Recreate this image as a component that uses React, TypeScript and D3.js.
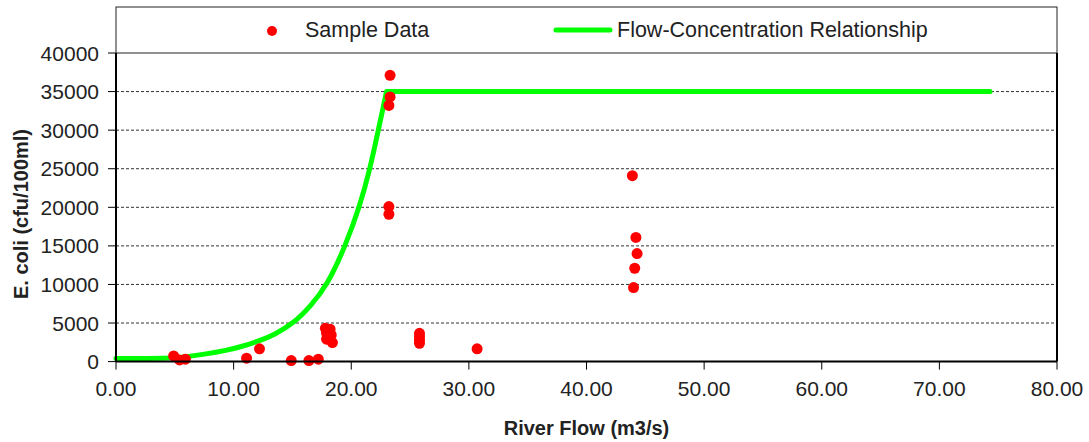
import React from "react";
import * as d3 from "d3";

const sampleFlow = [4.9, 5.4, 5.9, 11.1, 12.2, 14.9, 16.4, 17.2, 17.8, 18.2, 17.9, 18.3, 17.9, 18.4, 23.3, 23.3, 23.2, 23.2, 23.2, 25.8, 25.8, 25.8, 25.8, 30.7, 43.9, 44.2, 44.3, 44.1, 44.0];
const sampleEcoli = [740, 220, 310, 440, 1650, 130, 130, 310, 4320, 4200, 3680, 3460, 2900, 2460, 37100, 34300, 33200, 20100, 19100, 3670, 3240, 2810, 2380, 1650, 24100, 16100, 14000, 12100, 9600];

// rising part of the flow-concentration relationship
const curveFlow = [0, 4.5, 5.7, 7.5, 9.4, 10.8, 12.2, 13.5, 15.1, 16.5, 18.0, 19.5, 20.7, 21.6, 22.3, 23.0];
const curveEcoli = [400, 400, 580, 950, 1450, 2000, 2700, 3500, 5000, 7100, 10000, 15000, 20000, 25000, 30000, 35000];
// plateau
const plateauFlow = [23.0, 74.3];
const plateauEcoli = [35000, 35000];

const xTicks = [0, 10, 20, 30, 40, 50, 60, 70, 80];
const yTicks = [0, 5000, 10000, 15000, 20000, 25000, 30000, 35000, 40000];

const W = 1089;
const H = 442;
const left = 116;
const right = 1057;
const top = 53;
const bottom = 361.6;
const FONT = "'Liberation Sans', Arial, sans-serif";
const TXT = "#222";

export default function App() {
  const x = d3.scaleLinear().domain([0, 80]).range([left, right]);
  const y = d3.scaleLinear().domain([0, 40000]).range([bottom, top]);
  const rise = d3
    .line<number>()
    .x((_, i) => x(curveFlow[i]))
    .y((d) => y(d))
    .curve(d3.curveBasis);
  const flat = d3
    .line<number>()
    .x((_, i) => x(plateauFlow[i]))
    .y((d) => y(d));
  const risePath = rise(curveEcoli) || "";
  const flatPath = flat(plateauEcoli) || "";

  return (
    <svg width={W} height={H} style={{ position: "absolute", left: 0, top: 0, background: "#fff" }} fontFamily={FONT}>
      <rect x={0} y={0} width={W} height={H} fill="#fff" />
      {/* legend box */}
      <rect x={left} y={7} width={right - left} height={top - 7} fill="none" stroke="#222" strokeWidth={1} />
      <circle cx={272} cy={31} r={5} fill="#ff0000" />
      <text x={305} y={37} fontSize={21.5} fill={TXT}>Sample Data</text>
      <line x1={556} x2={610} y1={30} y2={30} stroke="#00ff00" strokeWidth={5} strokeLinecap="round" />
      <text x={617} y={37} fontSize={21.5} fill={TXT}>Flow-Concentration Relationship</text>

      {/* gridlines */}
      {yTicks.filter((t) => t > 0 && t < 40000).map((t) => (
        <line key={"g" + t} x1={left} x2={right} y1={y(t)} y2={y(t)} stroke="#333" strokeWidth={1} strokeDasharray="3,2" />
      ))}

      {/* right border */}
      <line x1={right} x2={right} y1={top} y2={bottom} stroke="#000" strokeWidth={2} />

      {/* relationship line */}
      <path d={risePath + flatPath.replace(/^M/, "L")} fill="none" stroke="#00ff00" strokeWidth={5} strokeLinecap="round" strokeLinejoin="round" />

      {/* points */}
      {sampleFlow.map((f, i) => (
        <circle key={"p" + i} cx={x(f)} cy={y(sampleEcoli[i])} r={5.5} fill="#ff0000" />
      ))}

      {/* axes */}
      <line x1={left} x2={left} y1={top} y2={bottom} stroke="#000" strokeWidth={2} />
      <line x1={left} x2={right} y1={bottom} y2={bottom} stroke="#000" strokeWidth={2} />
      {yTicks.map((t) => (
        <g key={"y" + t}>
          <line x1={left - 8} x2={left} y1={y(t)} y2={y(t)} stroke="#000" strokeWidth={1} />
          <text x={99} y={y(t)} dy="0.36em" textAnchor="end" fontSize={21} fill={TXT}>{t}</text>
        </g>
      ))}
      {xTicks.map((t) => (
        <g key={"x" + t}>
          <line x1={x(t)} x2={x(t)} y1={bottom} y2={bottom + 8} stroke="#000" strokeWidth={1} />
          <text x={x(t)} y={396} textAnchor="middle" fontSize={21} fill={TXT}>{t.toFixed(2)}</text>
        </g>
      ))}

      {/* axis titles */}
      <text x={(left + right) / 2} y={435} textAnchor="middle" fontSize={20} fontWeight="bold" fill={TXT}>River Flow (m3/s)</text>
      <text transform={`translate(28,214) rotate(-90)`} textAnchor="middle" fontSize={20} fontWeight="bold" fill={TXT}>E. coli (cfu/100ml)</text>
    </svg>
  );
}
